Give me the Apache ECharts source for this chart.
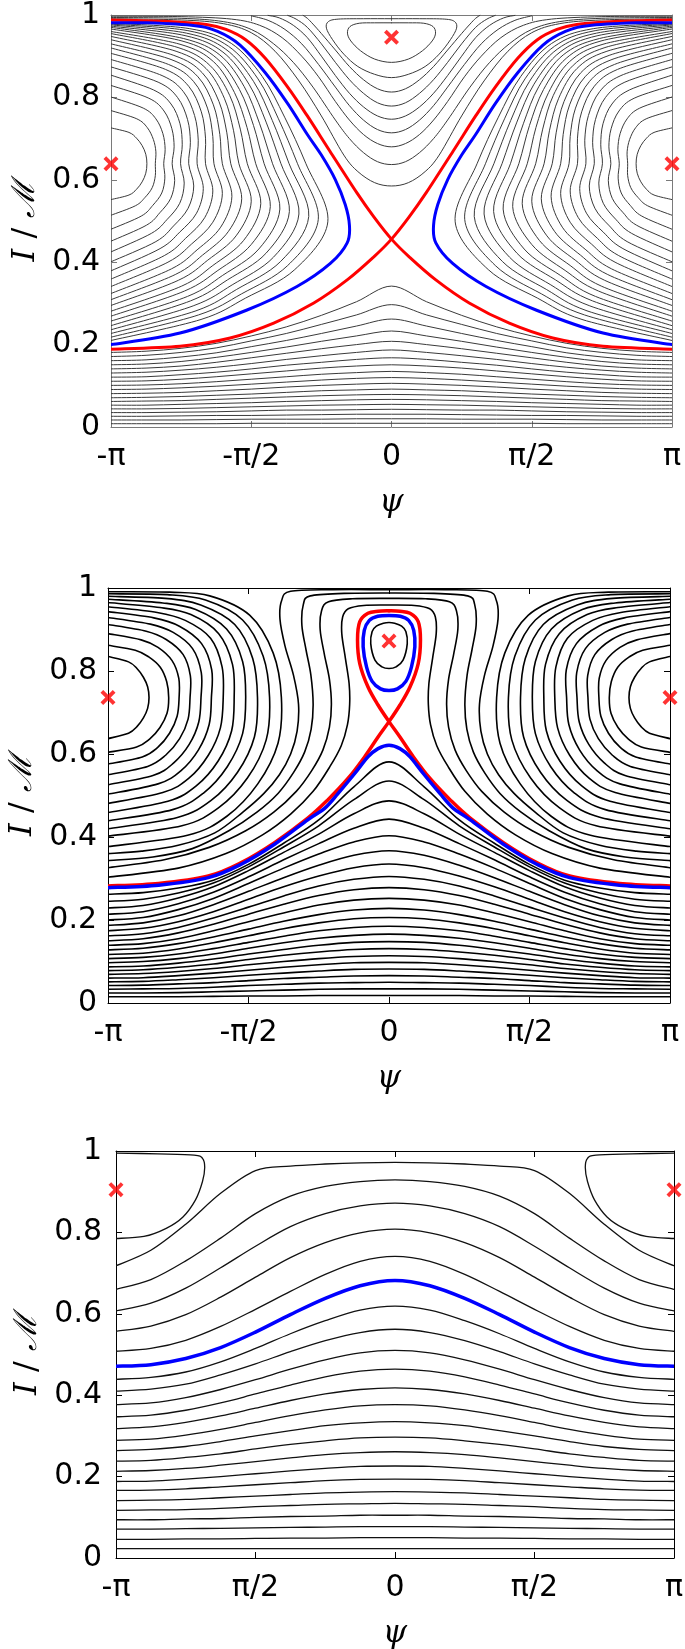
<!DOCTYPE html>
<html>
<head>
<meta charset="utf-8">
<script src="https://cdn.jsdelivr.net/npm/echarts@6/dist/echarts.min.js"></script>
<style>
  html, body { margin: 0; padding: 0; background: #fff; }
  #chart { width: 685px; height: 1649px; }
</style>
</head>
<body>
<div id="chart"></div>
<script>
// psi is in units of pi, I in units of M. Curves are symmetric in psi,
// so most of them are stored for psi >= 0 and mirrored.
var PSI_GRID = [0, 0.125, 0.25, 0.375, 0.5, 0.625, 0.75, 0.875, 1];

// ---------- panel 1 ----------
var p1Ticks = ['-π', '-π/2', '0', 'π/2', 'π'];
var p1Centers = [[0, 0.946], [-1, 0.639], [1, 0.639]];
var p1RedUp = [[0,.456],[.063,.51],[.125,.57],[.22,.67],[.30,.755],[.37,.825],[.45,.895],[.52,.94],[.59,.965],[.66,.977],[.81,.985],[1,.988]];
var p1RedLow = [[0,.456],[.063,.413],[.158,.357],[.277,.301],[.42,.252],[.575,.216],[.754,.196],[1,.189]];
var p1BlueLoop = [[1,.981],[.873,.981],[.70,.974],[.62,.96],[.54,.927],[.45,.86],[.37,.785],[.30,.71],[.25,.66],[.20,.6],[.165,.54],[.15,.49],[.158,.447],[.218,.397],[.337,.341],[.515,.284],[.754,.228],[1,.2]];
var p1SideLoops = [
  [[1,.726],[.936,.715],[.909,.701],[.889,.683],[.876,.662],[.872,.639],[.876,.616],[.889,.595],[.909,.577],[.936,.563],[1,.552]],
  [[1,.768],[.908,.748],[.871,.727],[.849,.698],[.840,.668],[.842,.639],[.842,.610],[.853,.581],[.879,.557],[.913,.537],[1,.514]],
  [[1,.801],[.885,.774],[.840,.748],[.815,.712],[.807,.674],[.812,.639],[.808,.604],[.819,.568],[.851,.538],[.892,.512],[1,.480]],
  [[1,.829],[.865,.798],[.811,.767],[.783,.724],[.775,.680],[.782,.639],[.773,.598],[.787,.555],[.826,.520],[.873,.490],[1,.451]],
  [[1,.854],[.848,.818],[.786,.784],[.754,.736],[.746,.685],[.752,.639],[.739,.592],[.755,.543],[.801,.503],[.856,.470],[1,.425]],
  [[1,.874],[.832,.837],[.763,.800],[.727,.746],[.717,.691],[.723,.639],[.705,.585],[.725,.531],[.777,.488],[.840,.450],[1,.401]],
  [[1,.892],[.818,.853],[.742,.814],[.702,.756],[.689,.696],[.693,.639],[.671,.579],[.695,.519],[.755,.473],[.825,.433],[1,.379]],
  [[1,.907],[.806,.868],[.723,.827],[.678,.765],[.663,.701],[.663,.639],[.637,.573],[.666,.508],[.734,.458],[.810,.416],[1,.359]],
  [[1,.920],[.795,.880],[.706,.839],[.656,.774],[.637,.705],[.633,.639],[.603,.567],[.637,.497],[.713,.444],[.797,.400],[1,.341]],
  [[1,.930],[.786,.892],[.690,.850],[.635,.782],[.612,.710],[.603,.639],[.569,.560],[.609,.485],[.693,.430],[.784,.384],[1,.324]],
  [[1,.940],[.776,.902],[.675,.860],[.615,.790],[.587,.714],[.573,.639],[.534,.554],[.581,.475],[.674,.417],[.771,.370],[1,.309]],
  [[1,.948],[.768,.912],[.661,.870],[.596,.798],[.563,.719],[.544,.639],[.500,.548],[.554,.464],[.655,.405],[.760,.356],[1,.295]],
  [[1,.955],[.761,.921],[.648,.878],[.577,.805],[.539,.723],[.514,.639],[.466,.542],[.527,.453],[.637,.392],[.748,.342],[1,.281]],
  [[1,.960],[.754,.929],[.635,.887],[.560,.812],[.515,.727],[.484,.639],[.432,.535],[.500,.443],[.619,.380],[.738,.330],[1,.269]],
  [[1,.966],[.747,.937],[.623,.895],[.542,.819],[.492,.732],[.454,.639],[.398,.529],[.473,.432],[.602,.368],[.727,.317],[1,.257]],
  [[1,.970],[.742,.943],[.612,.903],[.525,.826],[.470,.736],[.424,.639],[.364,.523],[.447,.422],[.585,.357],[.717,.306],[1,.246]],
  [[1,.973],[.736,.950],[.601,.910],[.508,.832],[.447,.740],[.394,.639],[.330,.517],[.421,.412],[.568,.345],[.707,.294],[1,.236]],
  [[1,.976],[.731,.956],[.591,.917],[.492,.839],[.425,.744],[.365,.639],[.295,.511],[.395,.402],[.552,.334],[.697,.282],[1,.227]],
  [[1,.978],[.726,.962],[.581,.924],[.476,.845],[.403,.748],[.335,.639],[.261,.504],[.370,.392],[.535,.323],[.688,.272],[1,.218]],
  [[1,.980],[.721,.967],[.571,.931],[.461,.851],[.381,.752],[.305,.639],[.227,.498],[.345,.382],[.520,.313],[.679,.261],[1,.210]]
];
// curves round the top centre, each from its bottom on psi = 0
var p1TopCurves = [
  [[0,.885],[.06,.893],[.11,.913],[.145,.937],[.157,.956],[.148,.972],[.115,.980],[.06,.981],[0,.981]],
  [[0,.848],[.06,.856],[.12,.875],[.17,.905],[.21,.94],[.232,.968],[.225,.984],[.19,.990],[.1,.991],[0,.991]],
  [[0,.813],[.05,.821],[.1,.843],[.15,.875],[.2,.915],[.25,.955],[.28,.978],[.30,.992],[.315,.999]],
  [[0,.779],[.05,.787],[.1,.81],[.15,.843],[.2,.885],[.25,.93],[.3,.97],[.34,.99],[.37,.999]],
  [[0,.747],[.05,.755],[.1,.777],[.15,.81],[.2,.853],[.25,.9],[.3,.945],[.35,.975],[.4,.993],[.44,.999]],
  [[0,.714],[.05,.722],[.1,.745],[.15,.78],[.2,.825],[.26,.88],[.32,.93],[.38,.965],[.44,.987],[.5,.998]],
  [[0,.680],[.05,.688],[.1,.71],[.15,.745],[.2,.79],[.26,.85],[.32,.90],[.39,.945],[.47,.975],[.57,.99],[.75,.996],[1,.997]],
  [[0,.637],[.05,.644],[.1,.666],[.15,.70],[.2,.745],[.28,.825],[.35,.885],[.42,.93],[.5,.965],[.6,.984],[.75,.992],[1,.994]],
  [[0,.585],[.06,.593],[.12,.62],[.17,.66],[.25,.755],[.33,.84],[.415,.912],[.5,.957],[.6,.979],[.75,.988],[1,.991]]
];
// open curves under the separatrix, I at PSI_GRID
var p1OpenCurves = [
  [.342,.304,.271,.243,.221,.203,.191,.184,.181],
  [.297,.272,.249,.227,.209,.192,.181,.174,.171],
  [.262,.245,.227,.210,.195,.180,.170,.163,.161],
  [.233,.221,.208,.194,.181,.169,.159,.153,.151],
  [.208,.200,.190,.179,.168,.157,.148,.143,.141],
  [.187,.181,.173,.164,.154,.145,.138,.133,.131],
  [.168,.164,.157,.150,.141,.133,.127,.122,.121],
  [.151,.148,.143,.136,.129,.122,.116,.112,.111],
  [.135,.132,.128,.122,.116,.110,.105,.102,.101],
  [.120,.118,.114,.109,.104,.099,.095,.092,.091],
  [.106,.104,.101,.097,.092,.088,.084,.082,.081],
  [.092,.090,.088,.084,.080,.077,.074,.072,.071],
  [.079,.078,.076,.073,.070,.067,.064,.063,.062],
  [.067,.066,.064,.062,.059,.057,.055,.053,.053],
  [.055,.054,.053,.051,.049,.047,.045,.044,.044],
  [.043,.042,.041,.041,.039,.037,.036,.035,.035],
  [.031,.031,.030,.029,.028,.028,.027,.026,.026],
  [.020,.020,.019,.019,.019,.018,.017,.017,.017],
  [.009,.009,.009,.009,.009,.008,.008,.008,.008]
];

// ---------- panel 2 ----------
var p2Ticks = ['-π', '-π/2', '0', 'π/2', 'π'];
var p2Centers = [[0, 0.872], [-1, 0.736], [1, 0.736]];
var p2RedLoop = [[0,.678],[.039,.718],[.075,.762],[.104,.818],[.112,.875],[.104,.919],[.075,.939],[.039,.944],[0,.945]];
var p2RedLow = [[0,.678],[.039,.641],[.087,.593],[.146,.541],[.217,.49],[.288,.446],[.406,.387],[.524,.339],[.643,.306],[.82,.288],[1,.282]];
var p2BlueLoop = [[0,.753],[.03,.757],[.06,.775],[.08,.81],[.092,.858],[.088,.898],[.07,.922],[.04,.932],[0,.934]];
var p2BlueArch = [[0,.621],[.039,.613],[.075,.593],[.122,.553],[.181,.505],[.229,.469],[.288,.442],[.406,.383],[.524,.335],[.643,.302],[.82,.284],[1,.278]];
var p2InnerLoop = [[0,.806],[.025,.81],[.05,.826],[.065,.866],[.06,.895],[.045,.908],[.02,.915],[0,.917]];
var p2SideLoops = [
  [[1,.835],[.927,.822],[.897,.806],[.874,.785],[.859,.762],[.854,.736],[.859,.710],[.874,.687],[.897,.666],[.927,.650],[1,.637]],
  [[1,.862],[.903,.850],[.855,.834],[.814,.809],[.791,.774],[.784,.736],[.790,.698],[.815,.664],[.852,.636],[.898,.617],[1,.604]],
  [[1,.890],[.882,.875],[.822,.857],[.772,.825],[.748,.782],[.747,.736],[.754,.691],[.781,.650],[.823,.616],[.878,.593],[1,.576]],
  [[1,.912],[.864,.896],[.793,.876],[.733,.840],[.707,.789],[.708,.736],[.715,.684],[.745,.637],[.795,.597],[.859,.570],[1,.550]],
  [[1,.929],[.849,.913],[.768,.893],[.699,.854],[.668,.796],[.669,.736],[.677,.677],[.711,.623],[.767,.578],[.840,.548],[1,.526]],
  [[1,.943],[.837,.928],[.746,.908],[.667,.866],[.631,.803],[.632,.736],[.640,.671],[.678,.610],[.740,.560],[.822,.528],[1,.503]],
  [[1,.955],[.825,.941],[.725,.922],[.635,.879],[.594,.810],[.590,.736],[.600,.663],[.643,.597],[.713,.541],[.805,.507],[1,.481]],
  [[1,.965],[.815,.953],[.705,.936],[.606,.890],[.557,.816],[.551,.736],[.560,.656],[.608,.583],[.686,.523],[.787,.486],[1,.459]],
  [[1,.973],[.805,.964],[.688,.948],[.578,.901],[.521,.823],[.510,.736],[.521,.649],[.575,.570],[.660,.506],[.770,.466],[1,.439]],
  [[1,.980],[.797,.975],[.670,.959],[.549,.912],[.485,.830],[.468,.736],[.479,.641],[.539,.556],[.633,.488],[.753,.447],[1,.420]],
  [[1,.986],[.789,.984],[.653,.971],[.521,.923],[.448,.836],[.425,.736],[.437,.634],[.504,.542],[.607,.470],[.737,.427],[1,.402]],
  [[1,.991],[.781,.990],[.638,.981],[.495,.934],[.412,.843],[.383,.736],[.395,.626],[.467,.528],[.577,.450],[.717,.404],[1,.377]]
];
// curves passing over the top centre, each from psi = 0 to the right edge
var p2OverCurves = [
  [[0,.996],[.2,.996],[.35,.992],[.382,.97],[.388,.925],[.37,.86],[.34,.79],[.322,.72],[.327,.655],[.35,.6],[.39,.55],[.445,.505],[.52,.46],[.62,.41],[.75,.38],[.88,.366],[1,.36]],
  [[0,.988],[.16,.987],[.28,.981],[.305,.96],[.31,.91],[.295,.85],[.278,.79],[.27,.72],[.277,.66],[.3,.605],[.34,.555],[.395,.505],[.47,.46],[.57,.415],[.7,.372],[.84,.352],[1,.343]],
  [[0,.975],[.13,.974],[.215,.967],[.24,.945],[.245,.90],[.23,.84],[.212,.78],[.205,.72],[.212,.665],[.235,.61],[.275,.56],[.33,.51],[.41,.46],[.51,.415],[.64,.375],[.8,.345],[1,.326]],
  [[0,.959],[.09,.958],[.145,.95],[.165,.93],[.168,.89],[.155,.83],[.142,.77],[.14,.72],[.148,.67],[.17,.62],[.21,.57],[.27,.51],[.35,.455],[.45,.405],[.58,.36],[.75,.325],[1,.303]]
];
var p2OpenCurves = [
  [.581,.521,.441,.385,.334,.296,.277,.266,.262],
  [.535,.490,.427,.376,.328,.289,.265,.250,.245],
  [.487,.456,.407,.363,.319,.280,.253,.235,.229],
  [.443,.421,.384,.345,.304,.267,.239,.220,.214],
  [.403,.388,.359,.325,.288,.252,.225,.206,.200],
  [.367,.356,.332,.302,.269,.237,.210,.193,.187],
  [.335,.326,.306,.280,.250,.220,.196,.180,.174],
  [.305,.298,.282,.258,.231,.205,.182,.167,.162],
  [.278,.273,.259,.238,.214,.190,.169,.155,.150],
  [.252,.248,.236,.217,.196,.174,.155,.143,.139],
  [.228,.224,.213,.197,.178,.159,.143,.132,.128],
  [.206,.203,.193,.179,.162,.145,.130,.120,.117],
  [.185,.182,.174,.161,.146,.131,.118,.110,.107],
  [.166,.163,.156,.145,.132,.118,.107,.100,.097],
  [.148,.146,.139,.129,.118,.106,.096,.089,.087],
  [.131,.129,.123,.115,.105,.094,.086,.080,.078],
  [.114,.112,.107,.100,.092,.083,.076,.071,.069],
  [.098,.097,.092,.086,.079,.072,.066,.061,.060],
  [.082,.081,.077,.072,.067,.061,.056,.052,.051],
  [.066,.065,.062,.059,.054,.049,.046,.043,.042],
  [.050,.049,.048,.045,.042,.038,.035,.034,.033],
  [.034,.034,.033,.031,.029,.027,.025,.024,.024],
  [.018,.018,.018,.017,.017,.016,.015,.015,.015]
];

// ---------- panel 3 ----------
var p3Ticks = ['-π', 'π/2', '0', 'π/2', 'π'];
var p3Centers = [[-1, 0.905], [1, 0.905]];
var p3CornerLoop = [[1,.785],[.9,.79],[.82,.81],[.76,.838],[.715,.88],[.69,.925],[.682,.96],[.69,.982],[.72,.99],[.85,.993],[1,.995]];
var p3Blue = [.682,.669,.638,.598,.555,.517,.490,.475,.471];
var p3OpenCurves = [
  [.972,.971,.968,.963,.952,.896,.820,.756,.718],
  [.929,.925,.913,.889,.846,.786,.730,.684,.660],
  [.872,.865,.846,.814,.766,.713,.663,.626,.607],
  [.808,.799,.775,.738,.690,.641,.598,.570,.557],
  [.741,.729,.697,.655,.611,.569,.535,.515,.508],
  [.619,.609,.583,.551,.515,.482,.457,.444,.439],
  [.562,.554,.534,.507,.477,.450,.427,.415,.410],
  [.510,.504,.487,.464,.438,.414,.394,.381,.377],
  [.464,.459,.445,.425,.403,.381,.363,.351,.347],
  [.418,.414,.403,.387,.368,.349,.333,.322,.318],
  [.377,.374,.364,.350,.333,.316,.302,.292,.289],
  [.335,.332,.325,.313,.300,.286,.274,.267,.264],
  [.297,.295,.288,.279,.268,.256,.247,.240,.238],
  [.261,.259,.254,.246,.237,.228,.220,.215,.213],
  [.226,.225,.220,.214,.207,.200,.194,.189,.188],
  [.194,.193,.190,.185,.180,.175,.170,.167,.166],
  [.163,.162,.160,.156,.152,.148,.144,.142,.141],
  [.134,.133,.132,.129,.126,.122,.119,.118,.117],
  [.105,.105,.103,.102,.100,.097,.096,.094,.094],
  [.077,.077,.076,.075,.074,.073,.072,.071,.071],
  [.050,.050,.049,.049,.048,.047,.047,.046,.046],
  [.023,.023,.023,.023,.023,.023,.023,.023,.023]
];

// ---------- helpers ----------
var RED = '#ff0000', BLUE = '#0000ff';
var CROSS = 'path://M0,1.8L1.8,0L5,3.2L8.2,0L10,1.8L6.8,5L10,8.2L8.2,10L5,6.8L1.8,10L0,8.2L3.2,5Z';

function flip(p) { return [-p[0], p[1]]; }
// a half that starts on psi = 0 -> the whole symmetric curve
function wholeFromHalf(half) {
  return half.slice().reverse().map(flip).concat(half.slice(1));
}
// left branch given on the right side, mirrored, then joined to the right branch
function joinAtSaddle(leftHalf, rightHalf) {
  return leftHalf.slice().reverse().map(flip).concat(rightHalf.slice(1));
}
function onGrid(vals) {
  return vals.map(function (v, i) { return [PSI_GRID[i], v]; });
}

// smooth path (Catmull-Rom) through the curve's points, placed by the axes
function splinePath(px) {
  var n = px.length;
  var closed = n > 3 && Math.abs(px[0][0] - px[n - 1][0]) < 0.5 && Math.abs(px[0][1] - px[n - 1][1]) < 0.5;
  function at(i) {
    if (closed) { if (i < 0) return px[n - 2]; if (i > n - 1) return px[1]; }
    return px[Math.max(0, Math.min(n - 1, i))];
  }
  var d = 'M' + px[0][0] + ' ' + px[0][1];
  for (var i = 0; i < n - 1; i++) {
    var p0 = at(i - 1), p1 = px[i], p2 = px[i + 1], p3 = at(i + 2);
    var c1x = p1[0] + (p2[0] - p0[0]) / 6, c1y = p1[1] + (p2[1] - p0[1]) / 6;
    var c2x = p2[0] - (p3[0] - p1[0]) / 6, c2y = p2[1] - (p3[1] - p1[1]) / 6;
    d += 'C' + c1x + ' ' + c1y + ' ' + c2x + ' ' + c2y + ' ' + p2[0] + ' ' + p2[1];
  }
  return d;
}

var series = [];
function addLine(gi, pts, color, width, z) {
  series.push({
    type: 'custom', xAxisIndex: gi * 2, yAxisIndex: gi * 2,
    data: [pts[0]], silent: true, animation: false, z: z || 2,
    renderItem: function (params, api) {
      var px = pts.map(function (p) { return api.coord(p); });
      var cs = params.coordSys;
      return {
        type: 'group',
        clipPath: { type: 'rect', shape: { x: cs.x, y: cs.y - 1, width: cs.width, height: cs.height + 2 } },
        children: [{
          type: 'path',
          shape: { pathData: splinePath(px) },
          style: { stroke: color, lineWidth: width, fill: null, lineJoin: 'round', lineCap: 'round' }
        }]
      };
    }
  });
}
function addMarks(gi, pts) {
  series.push({
    type: 'scatter', xAxisIndex: gi * 2, yAxisIndex: gi * 2,
    data: pts, symbol: CROSS, symbolSize: 15, clip: false, silent: true,
    animation: false, itemStyle: { color: RED }, z: 10
  });
}

// panel 1
var K1 = '#3a3a3a';
p1OpenCurves.forEach(function (v) { addLine(0, wholeFromHalf(onGrid(v)), K1, 1); });
p1TopCurves.forEach(function (h) { addLine(0, wholeFromHalf(h), K1, 1); });
p1SideLoops.forEach(function (l) { addLine(0, l, K1, 1); addLine(0, l.map(flip), K1, 1); });
addLine(0, joinAtSaddle(p1RedLow, p1RedUp), RED, 3, 4);
addLine(0, joinAtSaddle(p1RedUp, p1RedLow), RED, 3, 4);
addLine(0, p1BlueLoop, BLUE, 3, 5);
addLine(0, p1BlueLoop.map(flip), BLUE, 3, 5);
addMarks(0, p1Centers);

// panel 2
var K2 = '#000';
p2OpenCurves.forEach(function (v) { addLine(1, wholeFromHalf(onGrid(v)), K2, 1.6); });
p2SideLoops.forEach(function (l) { addLine(1, l, K2, 1.6); addLine(1, l.map(flip), K2, 1.6); });
p2OverCurves.forEach(function (h) { addLine(1, wholeFromHalf(h), K2, 1.6); });
addLine(1, wholeFromHalf(p2InnerLoop), K2, 1.6);
addLine(1, joinAtSaddle(p2RedLow, p2RedLoop), RED, 3.5, 4);
addLine(1, joinAtSaddle(p2RedLoop, p2RedLow), RED, 3.5, 4);
addLine(1, wholeFromHalf(p2BlueLoop), BLUE, 3.5, 5);
addLine(1, wholeFromHalf(p2BlueArch), BLUE, 3.5, 5);
addMarks(1, p2Centers);

// panel 3
var K3 = '#111';
p3OpenCurves.forEach(function (v) { addLine(2, wholeFromHalf(onGrid(v)), K3, 1.3); });
addLine(2, p3CornerLoop, K3, 1.3);
addLine(2, p3CornerLoop.map(flip), K3, 1.3);
addLine(2, wholeFromHalf(onGrid(p3Blue)), BLUE, 3.5, 5);
addMarks(2, p3Centers);

// ---------- axes ----------
var grids = [
  { left: 111, top: 15, width: 561, height: 412, outerBoundsMode: 'none' },
  { left: 108, top: 588, width: 562, height: 415, outerBoundsMode: 'none' },
  { left: 116, top: 1151, width: 558, height: 407, outerBoundsMode: 'none' }
];
var frameColors = ['#7a7a7a', '#000', '#000'];
var tickSets = [p1Ticks, p2Ticks, p3Ticks];
var labelFont = 'DejaVu Sans, sans-serif';
var xAxes = [], yAxes = [];
grids.forEach(function (g, gi) {
  var fc = frameColors[gi];
  var line = { show: true, onZero: false, lineStyle: { color: fc, width: 1 } };
  var tick = { show: true, inside: true, length: 6, lineStyle: { color: fc } };
  var ticks = tickSets[gi];
  xAxes.push({
    gridIndex: gi, type: 'value', min: -1, max: 1, interval: 0.5, position: 'bottom',
    axisLine: line, axisTick: tick, splitLine: { show: false },
    axisLabel: {
      margin: 15, fontSize: 30, color: '#000', fontFamily: labelFont,
      formatter: function (v) { return ticks[Math.round((v + 1) * 2)]; }
    },
    name: 'ψ', nameLocation: 'middle', nameGap: 60,
    nameTextStyle: { fontSize: 31, color: '#000', fontFamily: 'DejaVu Serif', fontStyle: 'italic' }
  });
  xAxes.push({
    gridIndex: gi, type: 'value', min: -1, max: 1, interval: 0.5, position: 'top',
    axisLine: line, axisTick: tick, splitLine: { show: false }, axisLabel: { show: false }
  });
  yAxes.push({
    gridIndex: gi, type: 'value', min: 0, max: 1, interval: 0.2, position: 'left',
    axisLine: line, axisTick: tick, splitLine: { show: false },
    axisLabel: {
      margin: gi === 2 ? 14 : 11, fontSize: 30, color: '#000', fontFamily: labelFont,
      formatter: function (v) { return v === 0 ? '0' : v === 1 ? '1' : v.toFixed(1); }
    },
    name: '{i|I} / {m|ℳ}', nameLocation: 'middle', nameRotate: 90, nameGap: 67,
    nameTextStyle: {
      fontSize: 32, color: '#000', fontFamily: 'DejaVu Serif',
      rich: {
        i: { fontSize: 32, fontFamily: 'DejaVu Serif', fontStyle: 'italic', color: '#000' },
        m: { fontSize: 32, fontFamily: 'DejaVu Serif', fontStyle: 'italic', color: '#000' }
      }
    }
  });
  yAxes.push({
    gridIndex: gi, type: 'value', min: 0, max: 1, interval: 0.2, position: 'right',
    axisLine: line, axisTick: tick, splitLine: { show: false }, axisLabel: { show: false }
  });
});

var chart = echarts.init(document.getElementById('chart'), null, { renderer: 'canvas' });
chart.setOption({
  backgroundColor: '#fff',
  animation: false,
  grid: grids,
  xAxis: xAxes,
  yAxis: yAxes,
  series: series
});
</script>
</body>
</html>
